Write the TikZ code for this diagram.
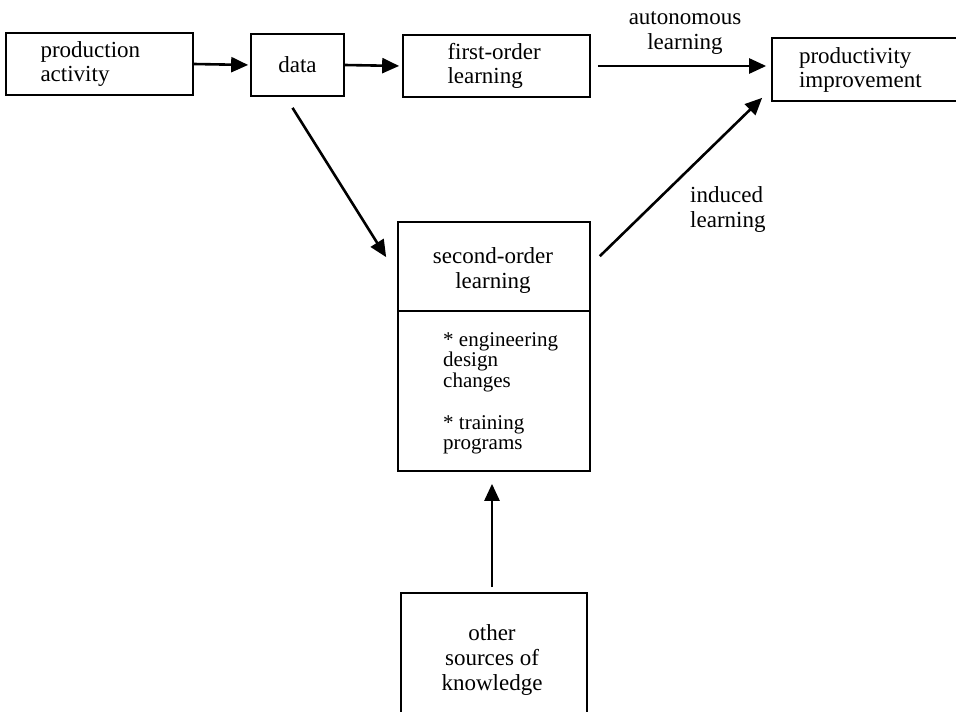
\documentclass[tikz,border=0pt]{standalone}
\usepackage{fontspec}
\setmainfont{Liberation Serif}
\usetikzlibrary{arrows.meta,calc}
\begin{document}
\begin{tikzpicture}[x=1pt,y=-1pt,
  box/.style={draw,line width=1.7pt,rectangle,inner sep=0pt,
    font=\fontsize{23}{24}\selectfont,align=left},
  lbl/.style={inner sep=0pt,font=\fontsize{23}{25}\selectfont},
  small/.style={inner sep=0pt,font=\fontsize{21}{20.5}\selectfont,align=left},
  arr/.style={line width=2.6pt,-{Triangle[length=17pt,width=15pt]}}]
\useasboundingbox (0,0) rectangle (956,712);
\clip (0,0) rectangle (956,712);
\node[box,minimum width=187pt,minimum height=62pt,text width=118pt] (pa) at (99.5,64) {production\\activity};
\node[box,minimum width=93pt,minimum height=62pt] (data) at (297.5,65) {data};
\node[box,minimum width=187pt,minimum height=62pt,text width=98pt] (fo) at (496.5,66) {first-order\\learning};
\node[box,minimum width=228pt,minimum height=63pt,text width=174pt] (pi) at (886,69.5) {productivity\\improvement};
\node[box,minimum width=192pt,minimum height=249pt] (so) at (494,346.5) {};
\draw[line width=1.7pt] ($(so.north west)+(0,90)$) -- ($(so.north east)+(0,90)$);
\node[lbl,align=center] (sot) at (493,270) {second-order\\learning};
\node[small,anchor=west] (b1) at (443,362) {* engineering\\design\\changes};
\node[small,anchor=west] (b2) at (443,435) {* training\\programs};
\node[box,minimum width=186pt,minimum height=167pt] (ot) at (494,676.5) {};
\node[lbl,align=center] (ott) at (492,660) {other\\sources of\\knowledge};
\node[lbl,align=center] (al) at (685,33) {autonomous\\learning};
\node[lbl,align=left,anchor=west] (il) at (690,210) {induced\\learning};
\draw[arr,shorten >=2pt] (pa.east) -- (data.west);
\draw[arr,shorten >=3pt] (data.east) -- (fo.west);
\draw[arr,shorten <=7pt,shorten >=5pt] (fo.east) -- (fo.east -| pi.west);
\draw[arr] ([shift={(-5,11)}]data.south) -- ([shift={(-11,36)}]so.north west);
\draw[arr] ([shift={(9,35)}]so.north east) -- ([shift={(-9,-4)}]pi.south west);
\draw[arr,shorten <=5pt,shorten >=12pt] ([xshift=-2pt]ot.north) -- ([xshift=-2pt]so.south);
\end{tikzpicture}
\end{document}
